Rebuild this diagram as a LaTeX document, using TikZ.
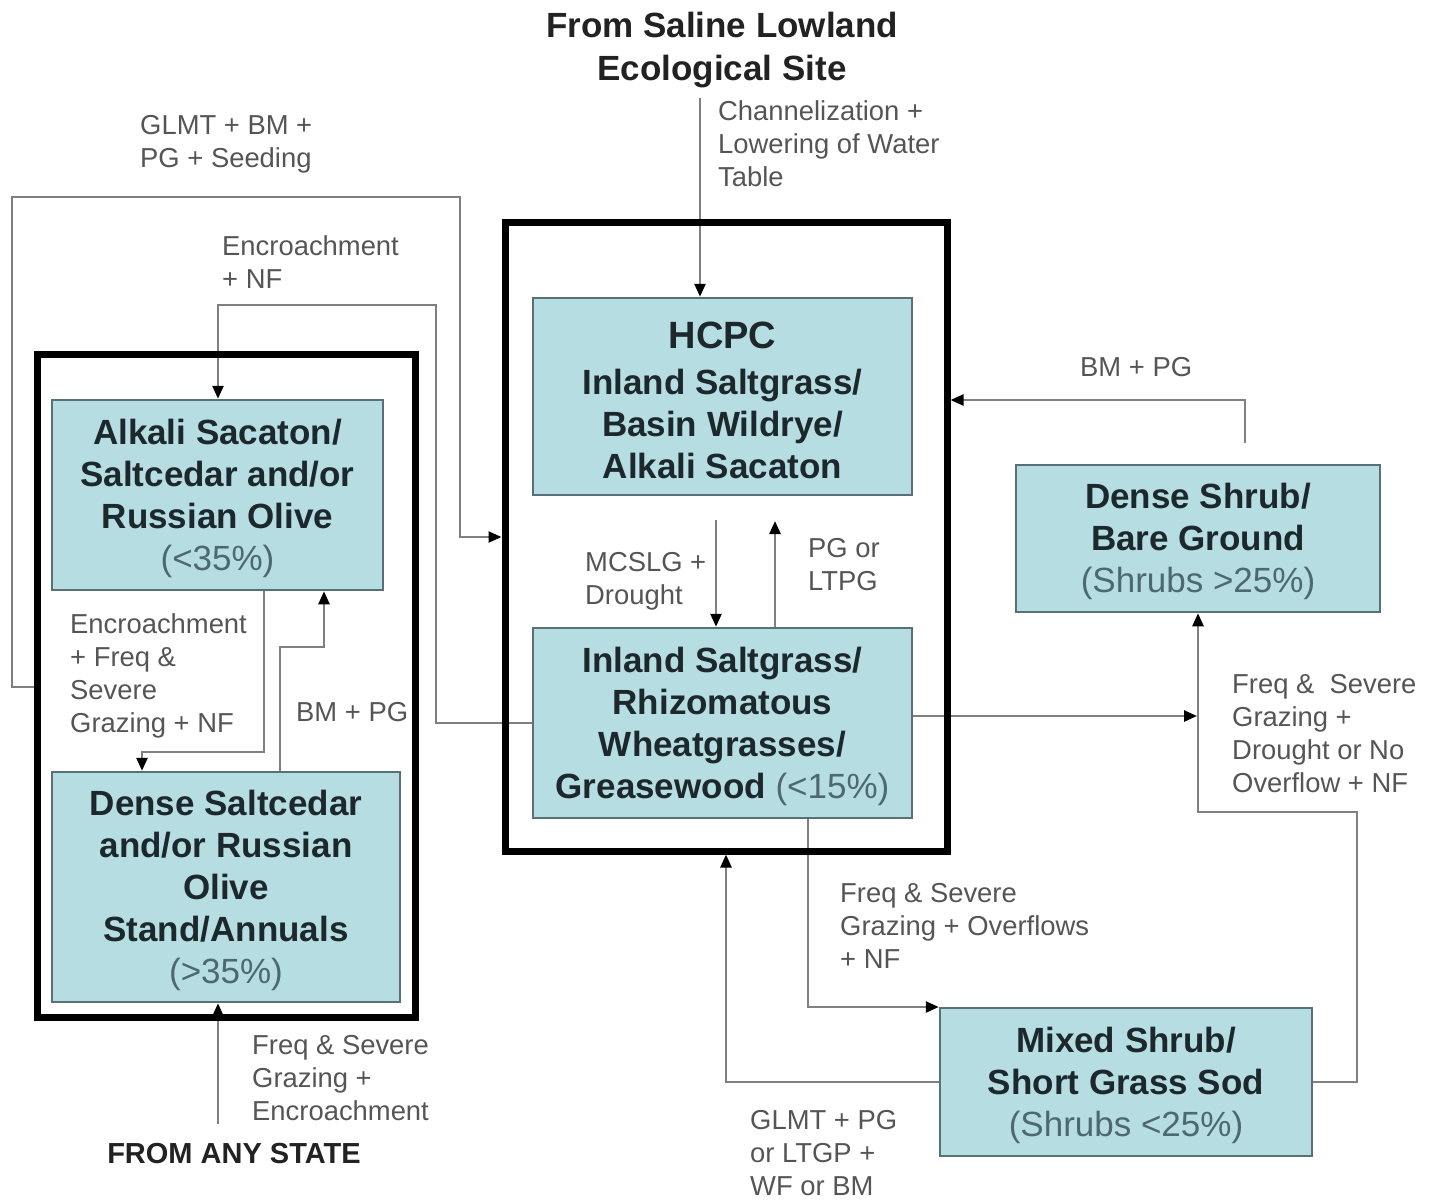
\documentclass[tikz,border=0pt]{standalone}
\usepackage{fontspec}
\setmainfont{Liberation Sans}
\usetikzlibrary{arrows.meta,backgrounds}
\definecolor{boxfill}{RGB}{181,221,226}
\definecolor{boxline}{RGB}{88,112,118}
\definecolor{boxtext}{RGB}{28,40,44}
\definecolor{pcttext}{RGB}{78,104,112}
\definecolor{lblgray}{RGB}{85,85,85}
\definecolor{conngray}{RGB}{128,128,128}
\definecolor{titletext}{RGB}{34,34,34}
\newcommand\pcttxt[1]{{\mdseries\color{pcttext}#1}}
\newcommand\topstrut{\rule{0pt}{32pt}}
\begin{document}
\begin{tikzpicture}[x=1pt,y=-1pt,
 statebox/.style={draw=boxline, fill=boxfill, line width=2.5pt, inner sep=0pt, align=center, text=boxtext, font=\fontsize{35}{42}\selectfont\bfseries},
 frame/.style={draw=black, line width=7pt, inner sep=0pt},
 lbl/.style={anchor=north west, inner sep=0pt, align=left, text=lblgray, font=\fontsize{27.4}{33}\selectfont},
 headtxt/.style={inner sep=0pt, align=center, text=titletext, font=\fontsize{35}{43}\selectfont\bfseries},
 conn/.style={draw=conngray, line width=2.5pt},
 arr/.style={conn, -{Triangle[length=13pt,width=11pt,color=black]}},
]
\useasboundingbox (0,0) rectangle (1434,1200);

% frames
\node[frame, minimum width=442pt, minimum height=629pt] (cframe) at (726,536.5) {};
\node[frame, minimum width=378pt, minimum height=663pt] (lframe) at (226,685.5) {};

% state boxes
\node[statebox, minimum width=379pt, minimum height=197pt] (hcpc) at (722.5,396.5)
  {\rule{0pt}{34pt}{\fontsize{38}{46}\selectfont HCPC}\\[4pt]Inland Saltgrass/\\Basin Wildrye/\\Alkali Sacaton};
\node[statebox, minimum width=379pt, minimum height=190pt] (isr) at (722.5,723)
  {\topstrut Inland Saltgrass/\\Rhizomatous\\Wheatgrasses/\\Greasewood \pcttxt{(<15\%)}};
\node[statebox, minimum width=331pt, minimum height=190pt] (boxA) at (217.5,495)
  {\topstrut Alkali Sacaton/\\Saltcedar and/or\\Russian Olive\\\pcttxt{(<35\%)}};
\node[statebox, minimum width=348pt, minimum height=230pt] (boxB) at (226,887)
  {\topstrut Dense Saltcedar\\and/or Russian\\Olive\\Stand/Annuals\\\pcttxt{(>35\%)}};
\node[statebox, minimum width=364pt, minimum height=147pt] (dshrub) at (1198,538.5)
  {\topstrut Dense Shrub/\\Bare Ground\\\pcttxt{(Shrubs >25\%)}};
\node[statebox, minimum width=372pt, minimum height=148pt] (mixed) at (1126,1082)
  {\topstrut Mixed Shrub/\\Short Grass Sod\\\pcttxt{(Shrubs <25\%)}};

% headings
\node[headtxt, anchor=north] (title) at (722,12) {From Saline Lowland\\Ecological Site};
\node[headtxt, font=\fontsize{29}{34}\selectfont\bfseries] (anystate) at (234,1153) {FROM ANY STATE};

% labels
\node[lbl] (l1) at (140,115) {GLMT + BM +\\PG + Seeding};
\node[lbl] (l2) at (222,235) {Encroachment\\+ NF};
\node[lbl] (l3) at (718,100) {Channelization +\\Lowering of Water\\Table};
\node[lbl] (l4) at (70,613) {Encroachment\\+ Freq \&\\Severe\\Grazing + NF};
\node[lbl] (l5) at (296,702) {BM + PG};
\node[lbl] (l6) at (585,552) {MCSLG +\\Drought};
\node[lbl] (l7) at (808,538) {PG or\\LTPG};
\node[lbl] (l8) at (1080,357) {BM + PG};
\node[lbl] (l9) at (1232,674) {Freq \&\ \ Severe\\Grazing +\\Drought or No\\Overflow + NF};
\node[lbl] (l10) at (840,883) {Freq \& Severe\\Grazing + Overflows\\+ NF};
\node[lbl] (l11) at (750,1110) {GLMT + PG\\or LTGP +\\WF or BM};
\node[lbl] (l12) at (252,1035) {Freq \& Severe\\Grazing +\\Encroachment};

% free ends
\coordinate (tstart) at (700,98);
\coordinate (astart) at (218,1124);
\coordinate (mstart) at (716,520);
\coordinate (pend) at (775,521);
\coordinate (dstart) at (1245,443);

\begin{pgfonlayer}{background}
\draw[arr] (tstart) -- (tstart |- hcpc.north);
\draw[arr] (lframe.west |- 0,687) -- (12,687) -- (12,197) -- (460,197) -- (460,537) -- (cframe.west |- 0,537);
\draw[arr] (isr.west) -- (436,723) -- (436,305) -- (218,305) -- (boxA.north -| 218,0);
\draw[arr] (boxA.south -| 264,0) -- (264,752) -- (142,752) -- (boxB.north -| 142,0);
\draw[arr] (boxB.north -| 280,0) -- (280,647) -- (324,647) -- (boxA.south -| 324,0);
\draw[arr] (astart) -- (astart |- boxB.south);
\draw[arr] (mstart) -- (mstart |- isr.north);
\draw[arr] (pend |- isr.north) -- (pend);
\draw[arr] (dstart) -- (1245,400) -- (cframe.east |- 0,400);
\draw[arr] (isr.east |- 0,716) -- (1197,716);
\draw[arr] (mixed.east) -- (1357,1082) -- (1357,812) -- (1198,812) -- (dshrub.south -| 1198,0);
\draw[arr] (isr.south -| 808,0) -- (808,1007) -- (mixed.north west |- 0,1007);
\draw[arr] (mixed.west) -- (726,1082) -- (cframe.south -| 726,0);
\end{pgfonlayer}
\end{tikzpicture}
\end{document}
